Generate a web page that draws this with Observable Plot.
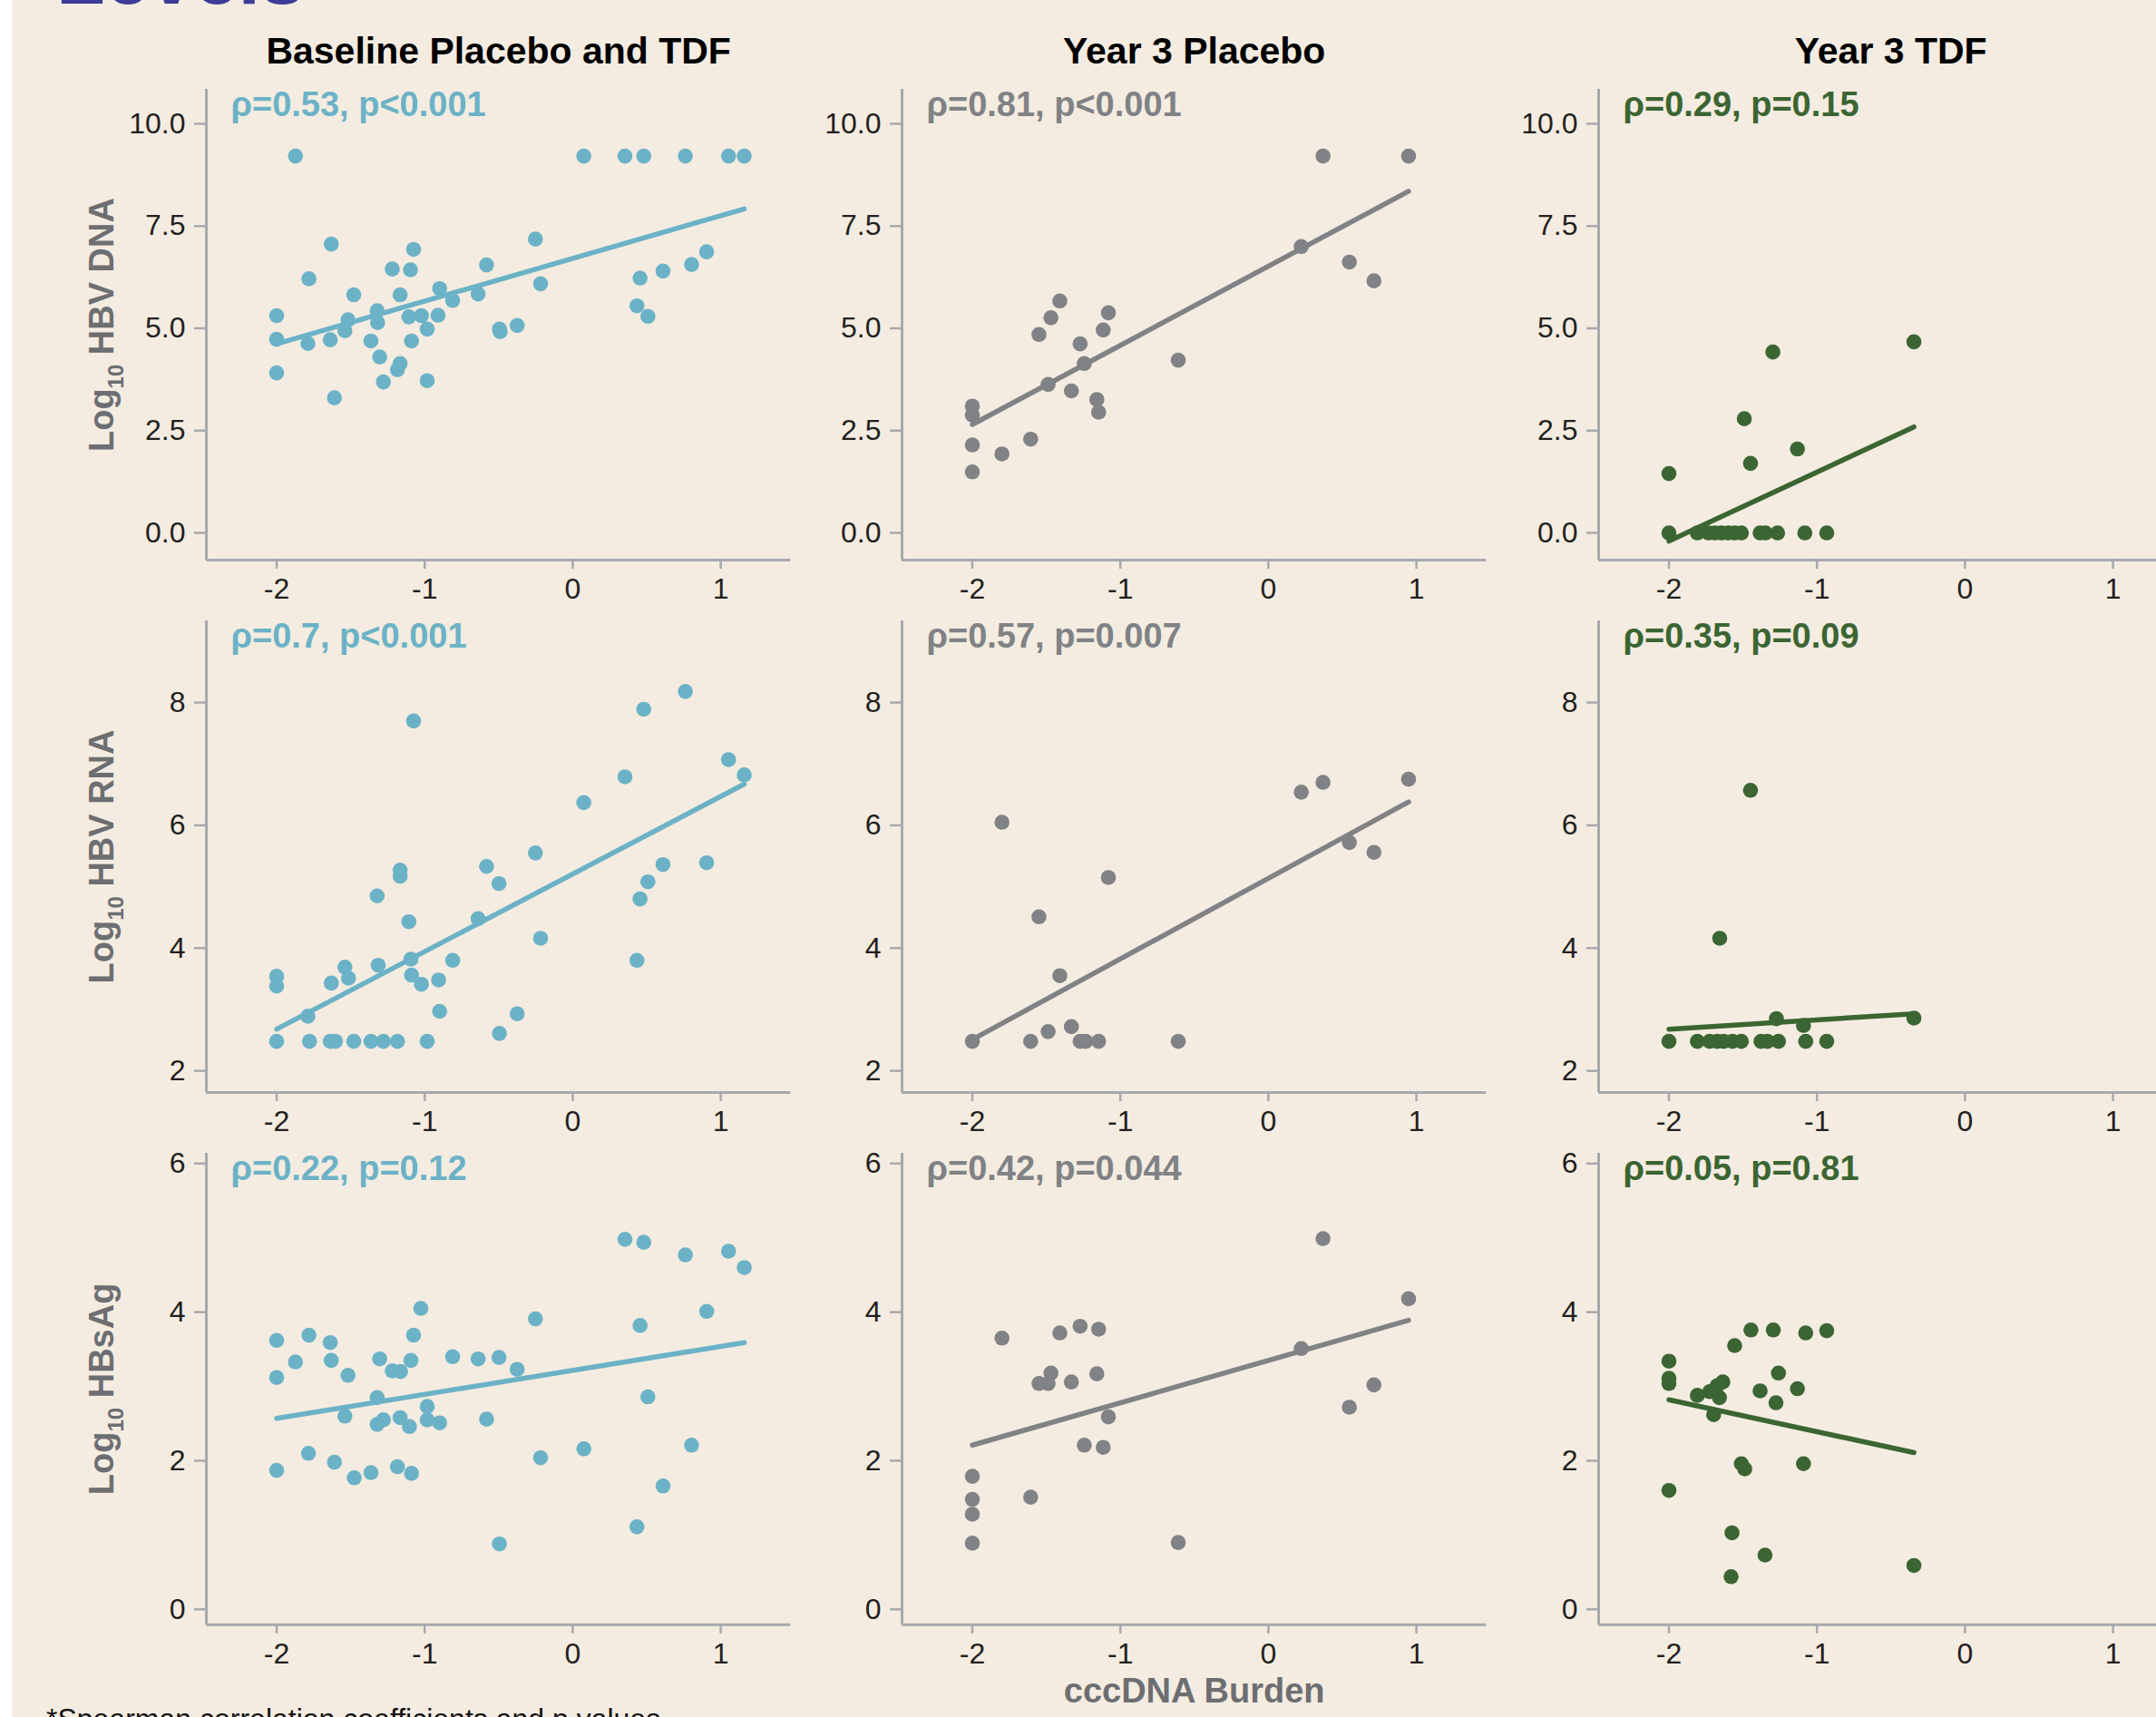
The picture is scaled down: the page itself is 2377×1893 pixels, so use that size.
<!DOCTYPE html>
<html><head><meta charset="utf-8">
<script src="https://cdn.jsdelivr.net/npm/d3@7"></script>
<script src="https://cdn.jsdelivr.net/npm/@observablehq/plot@0.6"></script>
<style>
html,body{margin:0;padding:0;width:2377px;height:1893px;overflow:hidden;background:#ffffff;}
#bg{position:absolute;left:13px;top:0;width:2364px;height:1893px;background:#F4ECE1;}
#chart{position:absolute;left:0;top:0;width:2377px;height:1893px;}
.panel{position:absolute;}
.panel svg{overflow:visible;max-width:none;}
#toptitle{position:absolute;left:62px;top:-70px;font:bold 88px "Liberation Sans",Arial,sans-serif;line-height:88px;color:#3C3C96;white-space:nowrap;}
#foot{position:absolute;left:51px;top:1879px;font:32px "Liberation Sans",Arial,sans-serif;line-height:32px;color:#111;white-space:nowrap;}
</style></head><body>
<div id="bg"></div>
<div id="toptitle">Levels</div>
<div id="chart"></div>
<div id="foot">*Spearman correlation coefficients and p values</div>
<script>
// ---------- data ----------
const columns = ["Baseline Placebo and TDF", "Year 3 Placebo", "Year 3 TDF"];
const columnColors = ["#6CB2C6", "#808285", "#3B6532"];
const rowLabels = ["Log10 HBV DNA", "Log10 HBV RNA", "Log10 HBsAg"];
const xLabel = "cccDNA Burden";
const xTicks = [-2, -1, 0, 1];
const xDomain = [-2.475, 1.473];
const yTicks = [[0, 2.5, 5, 7.5, 10], [2, 4, 6, 8], [0, 2, 4, 6]];
const yDomains = [[-0.667, 10.842], [1.648, 9.33], [-0.2075, 6.138]];
const stats = [
  ["ρ=0.53, p<0.001", "ρ=0.81, p<0.001", "ρ=0.29, p=0.15"],
  ["ρ=0.7, p<0.001", "ρ=0.57, p=0.007", "ρ=0.35, p=0.09"],
  ["ρ=0.22, p=0.12", "ρ=0.42, p=0.044", "ρ=0.05, p=0.81"]
];

const baseDNA = [[-1.873,9.21],[0.075,9.21],[0.353,9.21],[0.480,9.21],[0.761,9.21],[1.053,9.21],[1.159,9.21],
  [-1.631,7.06],[-1.075,6.93],[-0.252,7.18],[0.905,6.87],[0.803,6.56],[0.610,6.40],[0.455,6.23],
  [-0.582,6.55],[-1.219,6.45],[-1.096,6.43],[-1.782,6.21],[-0.217,6.09],[-1.479,5.82],[-1.166,5.82],
  [-0.899,5.97],[-0.811,5.68],[-0.639,5.84],[-1.321,5.43],[-1.318,5.14],[-1.107,5.28],[-1.022,5.31],
  [-0.910,5.32],[-1.518,5.21],[-1.539,4.94],[-0.983,4.98],[-0.495,4.98],[-0.490,4.92],[-0.375,5.07],[0.434,5.55],
  [0.508,5.29],[-2.0,5.31],[-2.0,4.73],[-1.789,4.63],[-1.638,4.72],[-1.363,4.69],[-1.089,4.69],
  [-1.304,4.30],[-1.166,4.14],[-1.184,3.99],[-2.0,3.91],[-1.279,3.69],[-0.983,3.72],[-1.610,3.30]];
const y3PlaDNA = [[0.369,9.21],[0.947,9.21],[0.222,7.00],[0.547,6.62],[0.713,6.16],[-1.409,5.67],[-1.469,5.26],
  [-1.081,5.38],[-1.550,4.85],[-1.116,4.96],[-1.272,4.62],[-0.609,4.22],[-1.244,4.14],[-1.488,3.63],
  [-1.331,3.47],[-1.159,3.26],[-1.147,2.95],[-2.0,3.10],[-2.0,2.88],[-2.0,2.15],[-1.800,1.93],[-1.606,2.29],[-2.0,1.49]];
const y3TdfDNA = [[-0.345,4.67],[-1.298,4.42],[-1.491,2.79],[-1.132,2.05],[-1.449,1.70],[-2.0,1.45],
  [-2.0,0],[-1.808,0],[-1.733,0],[-1.689,0],[-1.645,0],[-1.600,0],[-1.556,0],[-1.511,0],[-1.384,0],
  [-1.348,0],[-1.266,0],[-1.082,0],[-0.934,0]];
const baseRNA = [[-1.075,7.70],[0.761,8.18],[0.480,7.89],[1.053,7.07],[1.159,6.82],[0.353,6.79],[0.075,6.37],
  [-0.252,5.55],[-0.582,5.33],[0.610,5.36],[0.905,5.39],[-1.166,5.27],[-1.166,5.17],[-0.498,5.05],[0.508,5.08],
  [-1.321,4.85],[0.455,4.80],[-0.639,4.48],[-1.107,4.43],[-0.217,4.16],[-1.093,3.82],[-0.811,3.80],[0.434,3.80],
  [-1.314,3.72],[-1.539,3.69],[-1.515,3.51],[-2.0,3.54],[-2.0,3.38],[-1.631,3.43],[-1.089,3.56],[-1.022,3.41],
  [-0.906,3.48],[-0.899,2.97],[-0.375,2.93],[-1.789,2.89],[-0.495,2.61],
  [-2.0,2.48],[-1.778,2.48],[-1.638,2.48],[-1.603,2.48],[-1.479,2.48],[-1.363,2.48],[-1.279,2.48],[-1.184,2.48],[-0.983,2.48]];
const y3PlaRNA = [[0.947,6.75],[0.369,6.70],[0.222,6.54],[-1.800,6.05],[0.547,5.72],[0.713,5.56],[-1.081,5.15],
  [-1.550,4.51],[-1.409,3.55],[-1.331,2.72],[-1.488,2.64],[-2.0,2.48],[-1.606,2.48],[-1.272,2.48],[-1.234,2.48],
  [-1.147,2.48],[-0.609,2.48]];
const y3TdfRNA = [[-1.449,6.57],[-1.657,4.16],[-1.274,2.85],[-1.091,2.74],[-0.345,2.86],
  [-2.0,2.48],[-1.808,2.48],[-1.725,2.48],[-1.674,2.48],[-1.630,2.48],[-1.571,2.48],[-1.511,2.48],[-1.378,2.48],
  [-1.334,2.48],[-1.260,2.48],[-1.076,2.48],[-0.934,2.48]];
const baseHBsAg = [[0.353,4.98],[0.480,4.94],[0.761,4.77],[1.053,4.82],[1.159,4.60],[-1.026,4.05],[0.905,4.01],
  [-0.252,3.91],[0.455,3.82],[-1.075,3.69],[-2.0,3.62],[-1.782,3.69],[-1.638,3.59],[-1.873,3.33],[-1.631,3.35],
  [-1.304,3.37],[-1.093,3.35],[-0.811,3.40],[-0.639,3.37],[-0.498,3.39],[-1.219,3.21],[-1.163,3.20],[-0.375,3.23],
  [-2.0,3.12],[-1.518,3.15],[-1.321,2.85],[0.508,2.86],[-0.983,2.73],[-1.539,2.60],[-1.279,2.55],[-1.321,2.49],
  [-1.166,2.58],[-1.103,2.46],[-0.983,2.55],[-0.899,2.51],[-0.582,2.56],[0.075,2.16],[0.803,2.21],[-0.217,2.04],
  [-1.785,2.10],[-1.610,1.98],[-2.0,1.87],[-1.184,1.92],[-1.089,1.83],[-1.476,1.77],[-1.363,1.84],[0.610,1.66],
  [0.434,1.11],[-0.495,0.88]];
const y3PlaHBsAg = [[0.369,4.99],[0.947,4.18],[-1.272,3.81],[-1.147,3.77],[-1.409,3.72],[-1.800,3.65],[0.222,3.51],
  [-1.469,3.18],[-1.159,3.17],[-1.550,3.04],[-1.488,3.04],[-1.331,3.06],[0.713,3.02],[0.547,2.72],[-1.081,2.59],
  [-1.244,2.21],[-1.116,2.18],[-2.0,1.79],[-2.0,1.48],[-1.606,1.51],[-2.0,1.28],[-2.0,0.89],[-0.609,0.90]];
const y3TdfHBsAg = [[-1.446,3.76],[-1.295,3.76],[-1.076,3.72],[-0.934,3.75],[-1.556,3.55],[-2.0,3.34],[-2.0,3.11],
  [-2.0,3.04],[-1.260,3.18],[-1.636,3.06],[-1.674,3.01],[-1.725,2.93],[-1.808,2.88],[-1.659,2.85],[-1.384,2.94],
  [-1.132,2.97],[-1.277,2.78],[-1.698,2.62],[-1.511,1.96],[-1.488,1.89],[-1.091,1.96],[-2.0,1.60],[-1.574,1.03],
  [-1.351,0.73],[-1.580,0.44],[-0.345,0.59]];

// fitted trend lines: [start, end]
const fitBaseDNA = [[-2.0, 4.62], [1.159, 7.92]];
const fitY3PlaDNA = [[-2.0, 2.65], [0.947, 8.35]];
const fitY3TdfDNA = [[-2.0, -0.2], [-0.345, 2.59]];
const fitBaseRNA = [[-2.0, 2.68], [1.159, 6.67]];
const fitY3PlaRNA = [[-2.0, 2.51], [0.947, 6.38]];
const fitY3TdfRNA = [[-2.0, 2.68], [-0.345, 2.93]];
const fitBaseHBsAg = [[-2.0, 2.57], [1.159, 3.59]];
const fitY3PlaHBsAg = [[-2.0, 2.21], [0.947, 3.89]];
const fitY3TdfHBsAg = [[-2.0, 2.82], [-0.345, 2.11]];

const points = [[baseDNA, y3PlaDNA, y3TdfDNA], [baseRNA, y3PlaRNA, y3TdfRNA], [baseHBsAg, y3PlaHBsAg, y3TdfHBsAg]];
const fits = [[fitBaseDNA, fitY3PlaDNA, fitY3TdfDNA], [fitBaseRNA, fitY3PlaRNA, fitY3TdfRNA], [fitBaseHBsAg, fitY3PlaHBsAg, fitY3TdfHBsAg]];

// ---------- layout ----------
const FONT = '"Liberation Sans", Arial, Helvetica, sans-serif';
const axisGray = "#A7A9AC", tickInk = "#231F20", labelGray = "#6D6E71";
const colAxisX = [226.7, 994.4, 1762.1];
const rowTop = [97.9, 684.3, 1271.2];
const frameW = 644.3;
const frameH = [519.1, 520, 519.8];
const ML = 140, MR = 10, MT = 70, MB = 100;

function subscriptify(svg, label) {
  const ns = "http://www.w3.org/2000/svg";
  svg.querySelectorAll("text").forEach(t => {
    if (t.textContent === label) {
      t.textContent = "";
      const a = document.createElementNS(ns, "tspan"); a.textContent = "Log";
      const b = document.createElementNS(ns, "tspan"); b.textContent = "10";
      b.setAttribute("font-size", "24"); b.setAttribute("dy", "11");
      const c = document.createElementNS(ns, "tspan"); c.textContent = label.slice(5);
      c.setAttribute("dy", "-11");
      t.append(a, b, c);
    }
  });
}

const chart = document.getElementById("chart");
for (let r = 0; r < 3; r++) {
  for (let c = 0; c < 3; c++) {
    const color = columnColors[c];
    const pts = points[r][c].map(([x, y]) => ({x, y}));
    const fit = fits[r][c].map(([x, y]) => ({x, y}));
    const marks = [
      Plot.ruleX([xDomain[0]], {stroke: axisGray, strokeWidth: 3}),
      Plot.ruleY([yDomains[r][0]], {stroke: axisGray, strokeWidth: 3}),
      Plot.axisX({ticks: xTicks, tickFormat: d => String(d), tickSize: 10, tickPadding: 10,
        stroke: axisGray, strokeWidth: 2.5, fill: tickInk, fontSize: 32, label: null}),
      Plot.axisY({ticks: yTicks[r], tickFormat: r === 0 ? (d => d.toFixed(1)) : (d => String(d)),
        tickSize: 13, tickPadding: 10, stroke: axisGray, strokeWidth: 2.5, fill: tickInk, fontSize: 32, label: null}),
      Plot.line(fit, {x: "x", y: "y", stroke: color, strokeWidth: 5.5}),
      Plot.dot(pts, {x: "x", y: "y", r: 8.3, fill: color, stroke: "none"}),
      Plot.text([stats[r][c]], {frameAnchor: "top-left", dx: 27, dy: 29.5, lineAnchor: "bottom",
        textAnchor: "start", fontSize: 38, fontWeight: "bold", fill: color})
    ];
    if (r === 0) marks.push(Plot.text([columns[c]], {frameAnchor: "top", dy: -28, lineAnchor: "bottom",
      fontSize: 41, fontWeight: "bold", fill: "#000"}));
    if (c === 0) marks.push(Plot.text([rowLabels[r]], {frameAnchor: "left", dx: -103, rotate: -90,
      lineAnchor: "bottom", textAnchor: "middle", fontSize: 38, fontWeight: "bold", fill: labelGray}));
    if (r === 2 && c === 1) marks.push(Plot.text([xLabel], {frameAnchor: "bottom", dy: 86, lineAnchor: "bottom",
      fontSize: 38, fontWeight: "bold", fill: labelGray}));
    const svg = Plot.plot({
      width: ML + frameW + MR, height: MT + frameH[r] + MB,
      marginLeft: ML, marginRight: MR, marginTop: MT, marginBottom: MB,
      x: {domain: xDomain}, y: {domain: yDomains[r]},
      style: {background: "transparent", fontFamily: FONT, overflow: "visible"},
      marks
    });
    if (c === 0) subscriptify(svg, rowLabels[r]);
    const div = document.createElement("div");
    div.className = "panel";
    div.style.left = (colAxisX[c] - ML) + "px";
    div.style.top = (rowTop[r] - MT) + "px";
    div.appendChild(svg);
    chart.appendChild(div);
  }
}
</script></body></html>
